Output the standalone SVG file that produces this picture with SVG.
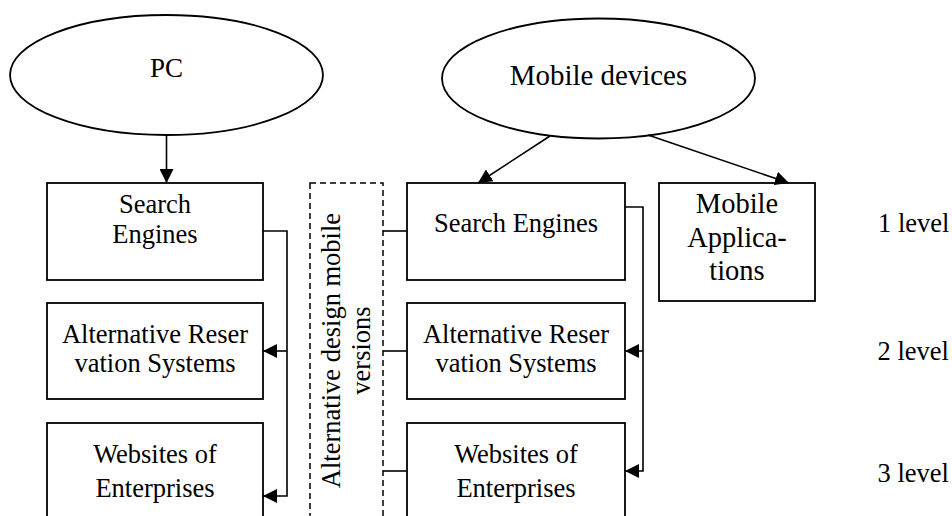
<svg xmlns="http://www.w3.org/2000/svg" width="952" height="516" viewBox="0 0 952 516" font-family="'Liberation Serif', 'Times New Roman', 'DejaVu Serif', serif">
<defs>
<style>
.shape{fill:#fff;stroke:#000;stroke-width:1.8}
.dash{fill:none;stroke:#000;stroke-width:1.5;stroke-dasharray:6 4}
text{font-family:'Liberation Serif','Times New Roman','DejaVu Serif',serif;font-size:26.5px;fill:#000}
.t{text-anchor:middle}
.big{font-size:28.5px}
.c{fill:none;stroke:#000;stroke-width:1.6}
</style>
<marker id="arr" viewBox="0 0 14 14" refX="14" refY="7" markerWidth="14" markerHeight="14" markerUnits="userSpaceOnUse" orient="auto">
<path d="M0,0 L14,7 L0,14 z" fill="#000"/>
</marker>
</defs>
<rect width="952" height="516" fill="#fff"/>
<g id="pc">
<ellipse class="shape" cx="166.5" cy="75" rx="156.5" ry="60"/>
<text class="t" x="166.5" y="77" style="font-size:27px">PC</text>
</g>
<g id="mobile-devices">
<ellipse class="shape" cx="598.5" cy="78.5" rx="156.5" ry="60"/>
<text class="t" x="598.5" y="85" style="font-size:28.9px">Mobile devices</text>
</g>
<g id="pc-search">
<rect class="shape" x="47" y="183" width="216" height="97"/>
<text class="t" x="155" y="213">Search</text>
<text class="t" x="155" y="243">Engines</text>
</g>
<g id="pc-alt">
<rect class="shape" x="47" y="303" width="216" height="96"/>
<text class="t" x="155" y="342.5">Alternative Reser</text>
<text class="t" x="155" y="372">vation Systems</text>
</g>
<g id="pc-web">
<rect class="shape" x="47" y="423" width="216" height="120"/>
<text class="t" x="155" y="463.3">Websites of</text>
<text class="t" x="155" y="496.5">Enterprises</text>
</g>
<g id="alt-design">
<rect class="dash" x="310" y="183" width="73" height="360"/>
<text class="t" transform="translate(340,350.5) rotate(-90)">Alternative design mobile</text>
<text class="t" transform="translate(370,350.5) rotate(-90)">versions</text>
</g>
<g id="m-search">
<rect class="shape" x="407" y="183" width="218" height="97"/>
<text class="t" x="516" y="231.7">Search Engines</text>
</g>
<g id="m-alt">
<rect class="shape" x="407" y="303" width="218" height="96"/>
<text class="t" x="516" y="342.5">Alternative Reser</text>
<text class="t" x="516" y="372">vation Systems</text>
</g>
<g id="m-web">
<rect class="shape" x="407" y="423" width="218" height="120"/>
<text class="t" x="516" y="463.3">Websites of</text>
<text class="t" x="516" y="496.5">Enterprises</text>
</g>
<g id="m-apps">
<rect class="shape" x="659" y="183" width="156" height="118"/>
<text class="t big" x="737" y="213.3">Mobile</text>
<text class="t big" x="737" y="246.7">Applica-</text>
<text class="t big" x="737" y="280">tions</text>
</g>
<g id="levels">
<text x="878" y="231.7">1 level</text>
<text x="877.5" y="360">2 level</text>
<text x="877.5" y="482.3">3 level</text>
</g>
<g id="connectors">
<line class="c" x1="166.5" y1="135" x2="166.5" y2="183" marker-end="url(#arr)"/>
<line class="c" x1="550" y1="136" x2="478" y2="183" marker-end="url(#arr)"/>
<line class="c" x1="648" y1="135" x2="789" y2="183" marker-end="url(#arr)"/>
<path class="c" d="M263,231 H287 V496 H263" marker-end="url(#arr)"/>
<path class="c" d="M287,351 H263" marker-end="url(#arr)"/>
<path class="c" d="M625,207 H643 V471 H625" marker-end="url(#arr)"/>
<path class="c" d="M643,351 H625" marker-end="url(#arr)"/>
<path class="c" d="M383,231 H407"/>
<path class="c" d="M383,351 H407"/>
<path class="c" d="M383,471 H407"/>
</g>
</svg>
